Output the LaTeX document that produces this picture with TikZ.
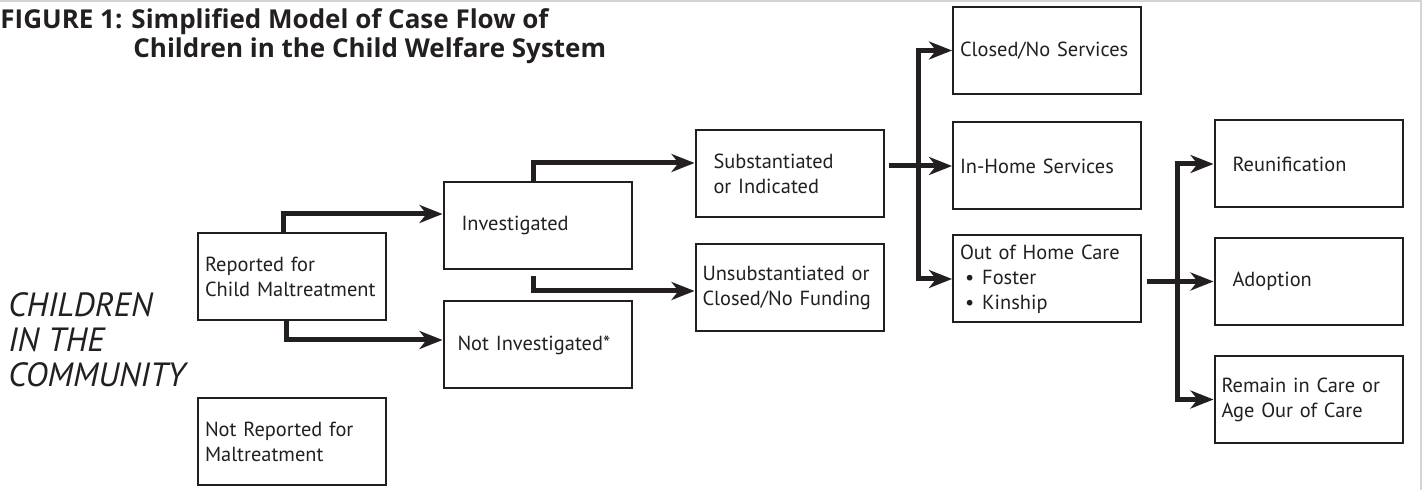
\documentclass[tikz,border=0pt]{standalone}
\usepackage{fontspec}
\setmainfont{PT Sans}
\newfontfamily\titlefont{Open Sans}
\usetikzlibrary{
    arrows.meta,
    positioning,
    calc
}
\definecolor{inkgray}{RGB}{35, 31, 32}
\definecolor{framegray}{RGB}{212, 212, 212}

\begin{document}
\begin{tikzpicture}[
        x=0.5pt, y=-0.5pt,
        box/.style={rectangle, draw=inkgray, line width=1pt, minimum width=94pt, minimum height=43.5pt, text width=87pt, inner xsep=3.5pt, inner ysep=0pt, align=left, text=inkgray, font=\fontsize{10.2}{12.5}\selectfont},
        indent/.style={text width=76pt, inner xsep=9pt},
        arrow/.style={-{Stealth[length=11.5pt, width=9pt, inset=3.5pt]}, line width=2.5pt, draw=inkgray},
    ]
        \useasboundingbox (0,0) rectangle (1424,490);
        \draw[framegray, line width=1.2pt] (0,1) -- (1421,1) -- (1421,490);

        % Title and side label
        \node[anchor=base west, align=left, inner sep=0pt, text=inkgray, font=\fontsize{13}{14.5}\titlefont\bfseries] (title) at (0,58) {FIGURE 1: Simplified Model of Case Flow of\\\hspace*{66.5pt}Children in the Child Welfare System};
        \node[anchor=base west, align=left, inner sep=0pt, text=inkgray, font=\fontsize{16.8}{17.5}\selectfont\itshape] (kids) at (8,387) {CHILDREN\\IN THE\\COMMUNITY};

        % Column 1: reports
        \node[box] (rep) at (292,276.5) {Reported for\\Child Maltreatment};
        \node[box] (notrep) at (292,442) {Not Reported for\\Maltreatment};

        % Column 2: investigation
        \node[box, indent] (inv) at (537.5,225.5) {Investigated};
        \node[box, text width=80pt, inner xsep=7pt] (notinv) at (537.5,345) {Not Investigated*};

        % Column 3: findings
        \node[box, indent] (subst) at (789.5,173.5) {Substantiated\\or Indicated};
        \node[box] (unsub) at (789.5,288) {Unsubstantiated or\\Closed/No Funding};

        % Column 4: services
        \node[box] (closed) at (1047,50.5) {Closed/No Services};
        \node[box] (inhome) at (1047,166) {In-Home Services};
        \node[box] (ooh) at (1047,279) {Out of Home Care\\\hspace*{2.5pt}\textbullet\hspace{4pt}Foster\\\hspace*{2.5pt}\textbullet\hspace{4pt}Kinship};

        % Column 5: outcomes
        \node[box, indent] (reun) at (1308.5,164) {Reunification};
        \node[box, indent] (adopt) at (1308.5,281.5) {Adoption};
        \node[box] (remain) at (1308.5,399.5) {Remain in Care or\\Age Our of Care};

        % Arrows - report path
        \draw[arrow] ([xshift=-4.5pt]rep.north) |- ([yshift=5.75pt]inv.west);
        \draw[arrow] ([xshift=-3pt]rep.south) |- ([yshift=2.5pt]notinv.west);

        % Arrows - investigation path
        \draw[arrow] ([xshift=-2.25pt]inv.north) |- ([yshift=5.25pt]subst.west);
        \draw[arrow, shorten <=3pt] ([xshift=-2.25pt]inv.south) |- ([yshift=-1.5pt]unsub.west);

        % Substantiated splits into services
        \coordinate (fork1) at ($(subst.east |- inhome.west)!0.5!(inhome.west)$);
        \draw[arrow, shorten <=2pt] (subst.east |- inhome.west) -- (inhome.west);
        \draw[arrow] (fork1) |- (closed.west);
        \draw[arrow] (fork1) |- (ooh.west);

        % Out of home care splits into outcomes
        \coordinate (fork2) at ($(ooh.east |- adopt.west)!0.5!(adopt.west)$);
        \draw[arrow, shorten <=2.5pt] (ooh.east |- adopt.west) -- (adopt.west);
        \draw[arrow] (fork2) |- (reun.west);
        \draw[arrow] (fork2) |- (remain.west);
    \end{tikzpicture}
\end{document}
